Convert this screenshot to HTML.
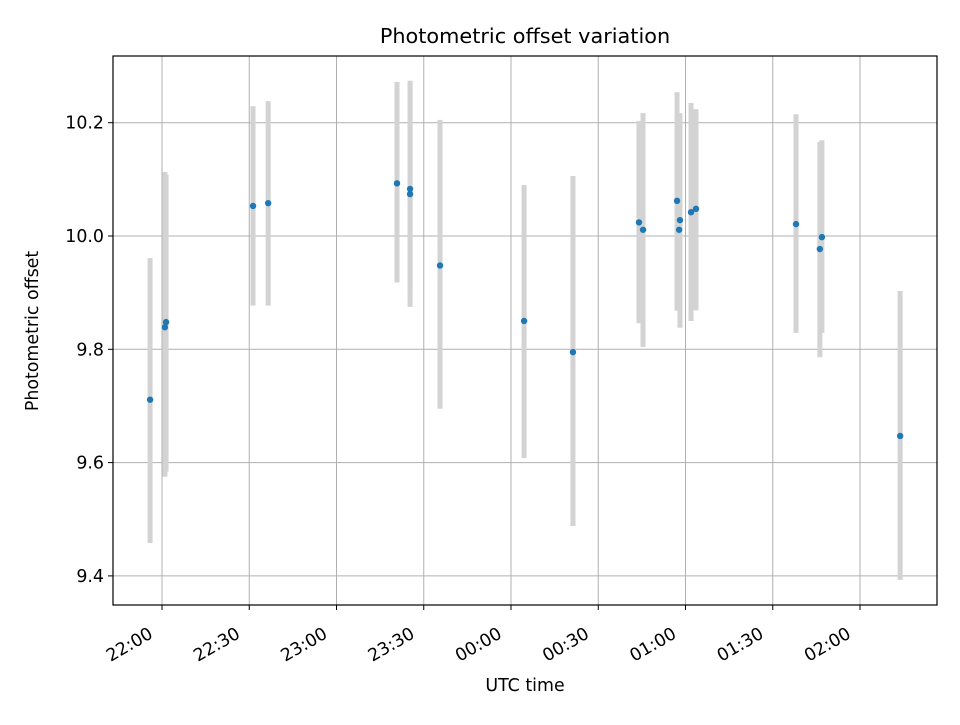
<!DOCTYPE html>
<html><head><meta charset="utf-8"><style>
body{margin:0;background:#fff;}
svg text{font-family:"DejaVu Sans","Liberation Sans",sans-serif;fill:#000;}
</style></head><body>
<svg id="chart" width="960" height="720" viewBox="0 0 960 720" xmlns="http://www.w3.org/2000/svg">
<rect width="960" height="720" fill="#fff"/>
<text x="525" y="43" font-size="20.8" text-anchor="middle">Photometric offset variation</text>
<text x="525" y="691" font-size="17.4" text-anchor="middle">UTC time</text>
<text x="38" y="331" font-size="17.4" text-anchor="middle" transform="rotate(-90 38 331)">Photometric offset</text>
<g id="grid"></g>
<g id="bars"></g>
<g id="pts"></g>
<rect x="113" y="56" width="824" height="549" fill="none" stroke="#000" stroke-width="1.2"/>
<g id="ticks"></g>
</svg>
<script>
// minutes since 22:00 UTC
const times = [-4.1, 1.0, 1.4, 31.3, 36.5, 80.8, 85.3, 85.3, 95.6, 124.5, 141.3, 164.0, 165.4, 177.1, 178.1, 177.8, 181.9, 183.6, 218.0, 226.9, 226.2, 253.8];
const offsets = [9.711, 9.839, 9.848, 10.053, 10.058, 10.093, 10.083, 10.074, 9.948, 9.850, 9.795, 10.024, 10.011, 10.062, 10.028, 10.011, 10.042, 10.048, 10.021, 9.998, 9.977, 9.647];
const upper = [9.961, 10.113, 10.108, 10.229, 10.238, 10.272, 10.274, 10.270, 10.205, 10.090, 10.106, 10.203, 10.217, 10.254, 10.217, 10.200, 10.235, 10.224, 10.215, 10.169, 10.166, 9.903];
const lower = [9.458, 9.575, 9.584, 9.877, 9.877, 9.918, 9.898, 9.875, 9.695, 9.608, 9.488, 9.846, 9.804, 9.868, 9.838, 9.870, 9.850, 9.869, 9.829, 9.829, 9.786, 9.393];
const xTickMinutes = [0, 30, 60, 90, 120, 150, 180, 210, 240];
const xTickLabels = ["22:00","22:30","23:00","23:30","00:00","00:30","01:00","01:30","02:00"];
const yTicks = [9.4, 9.6, 9.8, 10.0, 10.2];
const yTickLabels = ["9.4","9.6","9.8","10.0","10.2"];

const NS = "http://www.w3.org/2000/svg";
const xs = m => 162 + m * (87.25 / 30);
const ys = v => 236 - (v - 10) * 566.5;
function mk(tag, attrs, parent){const e=document.createElementNS(NS,tag);for(const k in attrs)e.setAttribute(k,attrs[k]);parent.appendChild(e);return e;}
const grid=document.getElementById('grid'), ticks=document.getElementById('ticks'), bars=document.getElementById('bars'), pts=document.getElementById('pts');

xTickMinutes.forEach((m,i)=>{
  const x=xs(m);
  const g=mk('line',{x1:x,x2:x,y1:56,y2:605,stroke:'#b0b0b0','stroke-width':1},grid);
  
  
  const t=mk('line',{x1:x,x2:x,y1:605,y2:610,stroke:'#000','stroke-width':1},ticks);
  
  
  const lx=x-8, ly=637;
  const tx=mk('text',{x:lx,y:ly,'font-size':17.4,'text-anchor':'end',transform:`rotate(-30 ${lx} ${ly})`},ticks);
  tx.textContent=xTickLabels[i];
  
  
});
yTicks.forEach((v,i)=>{
  const y=ys(v);
  const g=mk('line',{x1:113,x2:937,y1:y,y2:y,stroke:'#b0b0b0','stroke-width':1},grid);
  
  
  const t=mk('line',{x1:108,x2:113,y1:y,y2:y,stroke:'#000','stroke-width':1},ticks);
  
  
  const tx=mk('text',{x:104,y:y+6,'font-size':17.4,'text-anchor':'end'},ticks);
  tx.textContent=yTickLabels[i];
  
  
});
times.forEach((m,i)=>{
  const x=xs(m);
  const b=mk('line',{x1:x,x2:x,y1:ys(upper[i]),y2:ys(lower[i]),stroke:'#d3d3d3','stroke-width':5},bars);
  
  
});
times.forEach((m,i)=>{
  const c=mk('circle',{cx:xs(m),cy:ys(offsets[i]),r:3.2,fill:'#1f77b4'},pts);
  
  
});
</script>
</body></html>
